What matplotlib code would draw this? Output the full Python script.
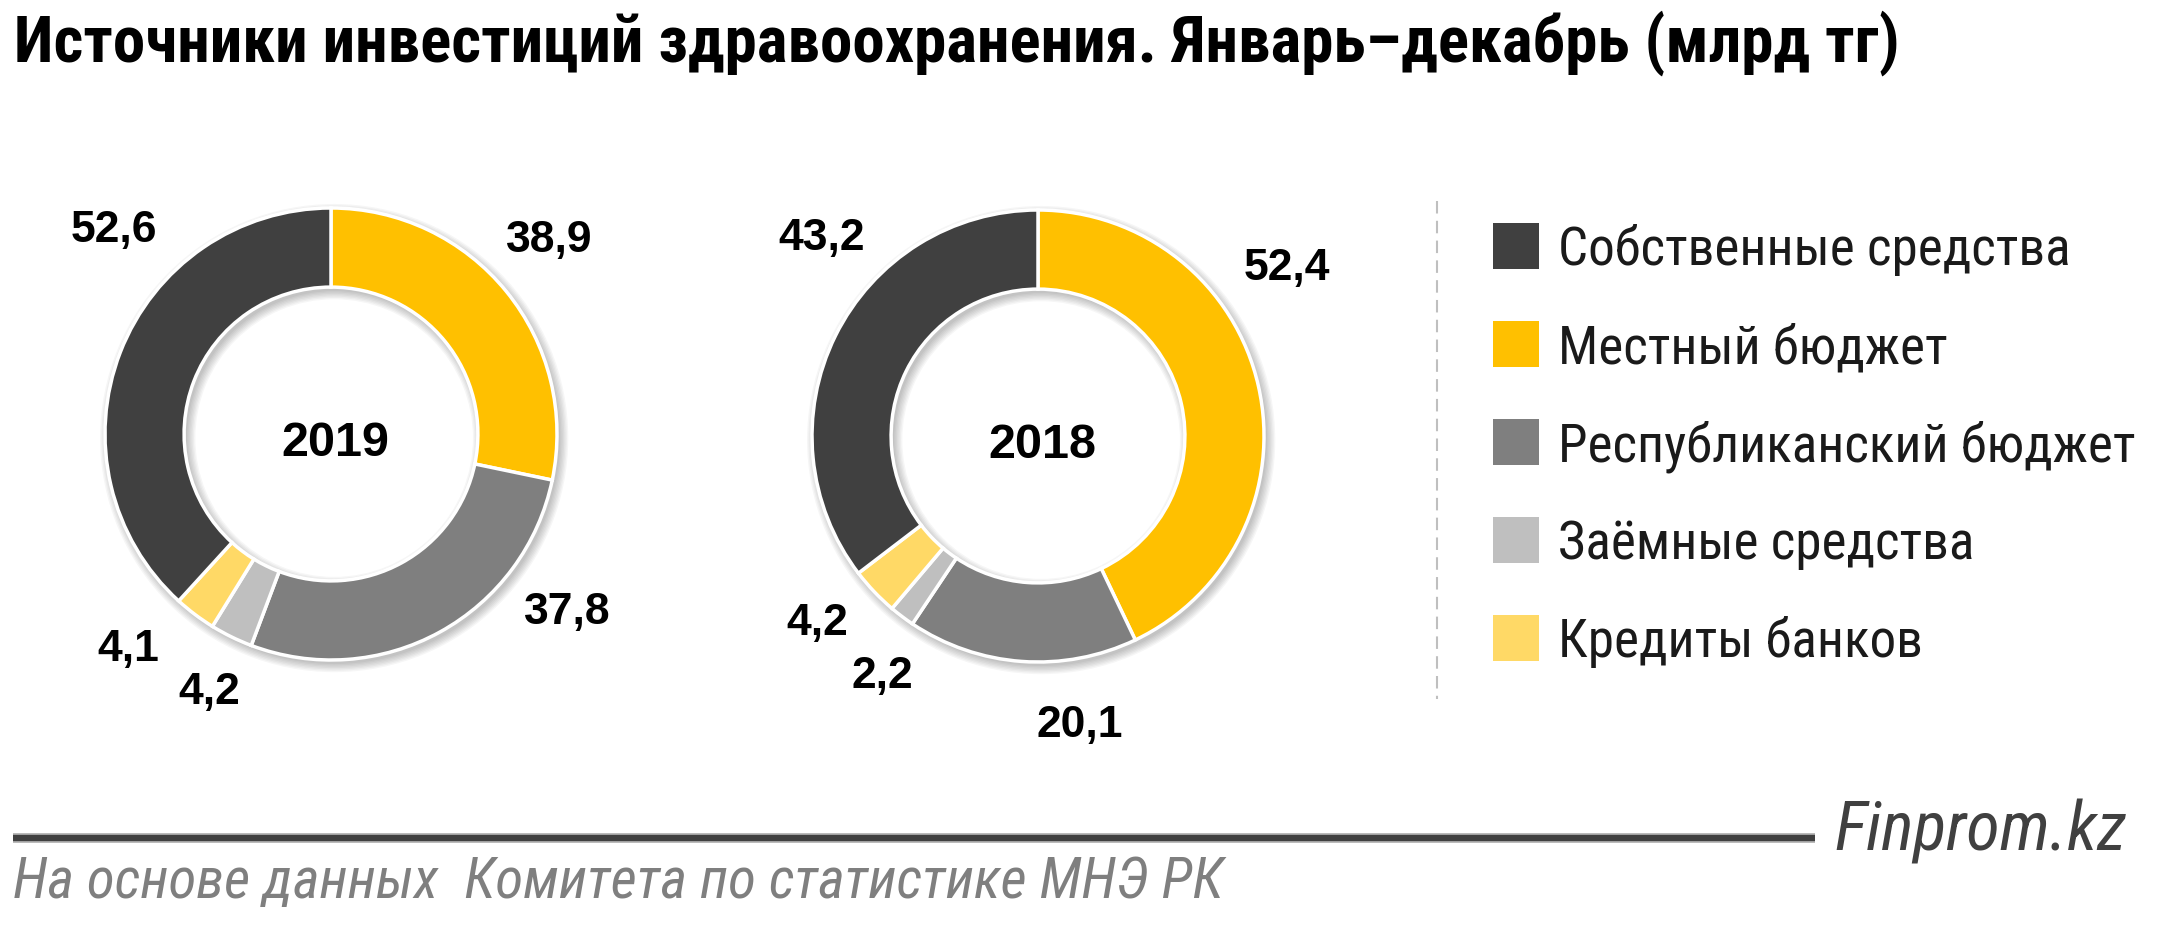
import matplotlib
matplotlib.use("Agg")
import matplotlib.pyplot as plt
from matplotlib import font_manager as fm
from matplotlib.patches import Wedge, Rectangle
from matplotlib.lines import Line2D

# ---------------- data ----------------
categories = ["Собственные средства", "Местный бюджет", "Республиканский бюджет",
              "Заёмные средства", "Кредиты банков"]
years = ["2019", "2018"]
values_2019 = [52.6, 38.9, 37.8, 4.2, 4.1]
values_2018 = [43.2, 52.4, 20.1, 2.2, 4.2]
title = "Источники инвестиций здравоохранения. Январь–декабрь (млрд тг)"
source = "На основе данных  Комитета по статистике МНЭ РК"
brand = "Finprom.kz"

# ---------------- style ----------------
colors = ["#404040", "#FFC000", "#7F7F7F", "#BFBFBF", "#FFD966"]
pie_order = [1, 2, 3, 4, 0]          # clockwise from 12 o'clock
label_offsets = {
    "2019": [(-0.96, 0.92), (0.965, 0.876), (1.044, -0.77), (-0.54, -1.124), (-0.898, -0.934)],
    "2018": [(-0.956, 0.894), (1.10, 0.761), (0.186, -1.261), (-0.69, -1.044), (-0.978, -0.81)],
}
centers_px = {"2019": (331, 434), "2018": (1038, 436)}
R_PX = 226
HOLE = 0.65

def pick(names):
    for n in names:
        try:
            fm.findfont(fm.FontProperties(family=n), fallback_to_default=False)
            return n
        except Exception:
            pass
    return "DejaVu Sans"

NARROW = pick(["Liberation Sans Narrow", "Roboto Condensed", "Open Sans", "Liberation Sans"])
NUMF = pick(["Liberation Sans", "Arial", "DejaVu Sans"])

W, H = 2160, 926
fig = plt.figure(figsize=(W / 100, H / 100), dpi=100)
fig.patch.set_facecolor("white")
renderer = fig.canvas.get_renderer()


def fx(x):
    return x / W


def fy(y):
    return 1 - y / H


def fit_text(x, y, s, target_w, ha="left", va="baseline", **kw):
    t = fig.text(fx(x), fy(y), s, fontsize=20, ha=ha, va=va, **kw)
    w = t.get_window_extent(renderer).width
    t.set_fontsize(20 * target_w / w)
    return t


# ---------------- title ----------------
fit_text(14, 62, title, 1881, fontfamily=NARROW, fontweight="bold", color="#000000")

# ---------------- donuts ----------------
LIM = 1.6
label_fs = 32      # pt
year_fs = 35
for yr, vals in zip(years, [values_2019, values_2018]):
    cx, cy = centers_px[yr]
    L = LIM * R_PX
    ax = fig.add_axes([fx(cx - L), fy(cy + L), 2 * L / W, 2 * L / H])
    # soft shadow
    for k in range(7):
        e = 0.006 * k
        ax.add_patch(Wedge((0.014, -0.018), 1 + e, 0, 360, width=(1 - HOLE) + 2 * e,
                           facecolor="black", edgecolor="none", alpha=0.035, zorder=0))
    ordered_vals = [vals[i] for i in pie_order]
    ordered_cols = [colors[i] for i in pie_order]
    ax.pie(ordered_vals, colors=ordered_cols, startangle=90, counterclock=False,
           radius=1, wedgeprops=dict(width=1 - HOLE, edgecolor="white", linewidth=2.5))
    ax.set_xlim(-LIM, LIM)
    ax.set_ylim(-LIM, LIM)
    ax.set_aspect("equal")
    ax.axis("off")
    # value labels
    fs_px = label_fs * 100 / 72
    half_h = 0.716 * fs_px / 2 / R_PX
    for i, v in enumerate(vals):
        dx, dy = label_offsets[yr][i]
        ax.text(dx, dy - half_h, f"{v:.1f}".replace(".", ","), ha="center", va="baseline",
                fontsize=label_fs, fontweight="bold", fontfamily=NUMF, color="#000000")
    yfs_px = year_fs * 100 / 72
    ax.text(0.02, -0.02 - 0.716 * yfs_px / 2 / R_PX, yr, ha="center", va="baseline",
            fontsize=year_fs, fontweight="bold", fontfamily=NUMF, color="#000000")

# ---------------- separator ----------------
fig.add_artist(Line2D([fx(1437), fx(1437)], [fy(201), fy(699)], color="#BFBFBF",
                      linewidth=1.5, linestyle=(0, (6, 3.5))))

# ---------------- legend ----------------
row0, step, sq = 246, 98, 46
leg_texts = []
for i, cat in enumerate(categories):
    yc = row0 + step * i
    fig.add_artist(Rectangle((fx(1493), fy(yc + sq / 2)), sq / W, sq / H,
                             transform=fig.transFigure, facecolor=colors[i], edgecolor="none"))
    t = fig.text(fx(1558), fy(yc), cat, fontsize=20, ha="left", va="baseline",
                 fontfamily=NARROW, color="#1a1a1a")
    leg_texts.append((t, yc))
# fit legend font to the widest entry
ref = leg_texts[2][0]
w = ref.get_window_extent(renderer).width
leg_fs = 20 * 576 / w
for t, yc in leg_texts:
    t.set_fontsize(leg_fs)
    cap = 0.716 * leg_fs * 100 / 72
    t.set_position((fx(1558), fy(yc + cap / 2)))

# ---------------- footer ----------------
fig.add_artist(Line2D([fx(13), fx(1815)], [fy(838), fy(838)], color="#B0B0B0",
                      linewidth=7, solid_capstyle="butt"))
fig.add_artist(Line2D([fx(13), fx(1815)], [fy(838), fy(838)], color="#404040",
                      linewidth=4.5, solid_capstyle="butt"))
fit_text(1834, 850, brand, 292, fontfamily=NARROW, fontweight="normal", fontstyle="italic",
         color="#404040")
fit_text(13, 898, source, 1212, fontfamily=NARROW, fontstyle="italic", color="#7F7F7F")

fig.savefig("out.png", dpi=100, facecolor="white")
